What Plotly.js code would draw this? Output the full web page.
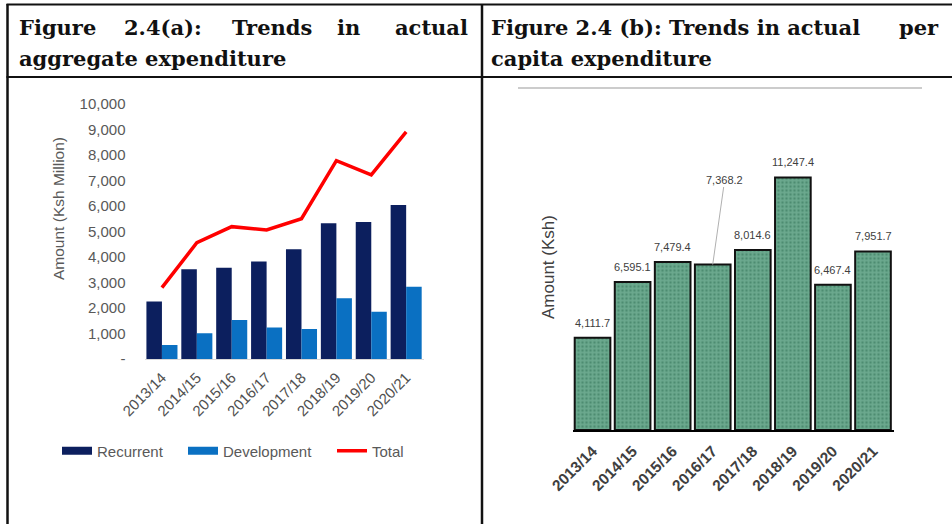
<!DOCTYPE html>
<html>
<head>
<meta charset="utf-8">
<script src="https://cdn.plot.ly/plotly-3.0.1.min.js"></script>
<style>
  html, body { margin: 0; padding: 0; background: #fff; }
  #chart { width: 952px; height: 524px; }
</style>
</head>
<body>
<div id="chart"></div>
<script>
// ---- Data ----
const categories = ['2013/14','2014/15','2015/16','2016/17','2017/18','2018/19','2019/20','2020/21'];
const recurrent = [2250, 3520, 3580, 3820, 4300, 5320, 5370, 6040];
const development = [550, 1010, 1530, 1240, 1175, 2380, 1855, 2835];
const total = [2800, 4560, 5190, 5060, 5500, 7780, 7220, 8910];
const perCapita = [4111.7, 6595.1, 7479.4, 7368.2, 8014.6, 11247.4, 6467.4, 7951.7];
const yTickVals = [0, 1000, 2000, 3000, 4000, 5000, 6000, 7000, 8000, 9000, 10000];
const yTickText = ['-', '1,000', '2,000', '3,000', '4,000', '5,000', '6,000', '7,000', '8,000', '9,000', '10,000'];
const seriesNames = ['Recurrent', 'Development', 'Total'];
const headerA1 = ['Figure', '2.4(a):', 'Trends', 'in', 'actual'];
const headerA2 = 'aggregate expenditure';
const headerB1 = ['Figure 2.4 (b): Trends in actual', 'per'];
const headerB2 = 'capita expenditure';
const titleA = 'Amount (Ksh Million)';
const titleB = 'Amount (Ksh)';

// ---- helpers ----
const W = 952, H = 524;
const px = v => v / W;
const py = v => 1 - v / H;
function fmt1(n) {
  const s = n.toFixed(1);
  const [i, d] = s.split('.');
  return i.replace(/\B(?=(\d{3})+(?!\d))/g, ',') + '.' + d;
}

const navy = '#0c1f5e';
const blue = '#0a70c2';
const red = '#ff0000';
const sans = 'Liberation Sans, Arial, sans-serif';
const serif = 'DejaVu Serif, serif';
const legendFont = { family: sans, size: 15, color: '#595959' };

const traces = [
  { type: 'bar', name: seriesNames[0], x: categories, y: recurrent, marker: { color: navy },
    xaxis: 'x', yaxis: 'y', showlegend: false },
  { type: 'bar', name: seriesNames[1], x: categories, y: development, marker: { color: blue },
    xaxis: 'x', yaxis: 'y', showlegend: false },
  { type: 'scatter', mode: 'lines', name: seriesNames[0], x: [null], y: [null],
    line: { color: navy, width: 8 }, xaxis: 'x', yaxis: 'y', legend: 'legend', hoverinfo: 'skip' },
  { type: 'scatter', mode: 'lines', name: seriesNames[1], x: [null], y: [null],
    line: { color: blue, width: 8 }, xaxis: 'x', yaxis: 'y', legend: 'legend2', hoverinfo: 'skip' },
  { type: 'scatter', mode: 'lines', name: seriesNames[2], x: categories, y: total,
    line: { color: red, width: 3.5 }, xaxis: 'x', yaxis: 'y', legend: 'legend3' },
  { type: 'bar', name: 'Per capita', x: categories, y: perCapita, xaxis: 'x2', yaxis: 'y2', showlegend: false,
    marker: { color: '#68a78b', line: { color: '#111', width: 2 },
      pattern: { shape: '.', bgcolor: '#6ba98e', fgcolor: '#4d8c71', size: 4, solidity: 0.3 } } }
];

const annotations = [];
// headers
const headFont = { family: serif, size: 21, color: '#111', weight: 'bold' };
const a1Centers = [null, 162.5, 271.5, 348.5, null];
headerA1.forEach((w, i) => {
  let x, xa;
  if (i === 0) { x = 17; xa = 'left'; }
  else if (i === headerA1.length - 1) { x = 470; xa = 'right'; }
  else { x = a1Centers[i]; xa = 'center'; }
  annotations.push({ text: w, xref: 'paper', yref: 'paper', x: px(x), y: py(28), xanchor: xa, yanchor: 'middle', showarrow: false, font: headFont });
});
annotations.push({ text: headerA2, xref: 'paper', yref: 'paper', x: px(17), y: py(58), xanchor: 'left', yanchor: 'middle', showarrow: false, font: headFont });
annotations.push({ text: headerB1[0], xref: 'paper', yref: 'paper', x: px(489), y: py(28), xanchor: 'left', yanchor: 'middle', showarrow: false, font: headFont });
annotations.push({ text: headerB1[1], xref: 'paper', yref: 'paper', x: px(941), y: py(28), xanchor: 'right', yanchor: 'middle', showarrow: false, font: headFont });
annotations.push({ text: headerB2, xref: 'paper', yref: 'paper', x: px(489), y: py(58), xanchor: 'left', yanchor: 'middle', showarrow: false, font: headFont });

// axis titles
annotations.push({ text: titleA, xref: 'paper', yref: 'paper', x: px(58), y: py(209), textangle: -90, showarrow: false,
  xanchor: 'center', yanchor: 'middle', font: { family: sans, size: 15.5, color: '#595959' } });
annotations.push({ text: titleB, xref: 'paper', yref: 'paper', x: px(548), y: py(267), textangle: -90, showarrow: false,
  xanchor: 'center', yanchor: 'middle', font: { family: sans, size: 17, color: '#404040' } });

// data labels for per-capita bars
perCapita.forEach((v, i) => {
  const base = { text: fmt1(v), xref: 'x2', yref: 'y2', x: categories[i], y: v,
    font: { family: sans, size: 11, color: '#404040' } };
  if (i === 3) {
    annotations.push(Object.assign(base, { showarrow: true, arrowhead: 0, arrowwidth: 1, arrowcolor: '#b0b0b0',
      ax: 12, ay: -85, standoff: 0 }));
  } else {
    annotations.push(Object.assign(base, { showarrow: false, yanchor: 'middle', yshift: 15 }));
  }
});

const shapes = [
  { type: 'line', xref: 'paper', yref: 'paper', x0: px(6.5), x1: px(952), y0: py(4.5), y1: py(4.5), line: { color: '#111', width: 2 } },
  { type: 'line', xref: 'paper', yref: 'paper', x0: px(6.5), x1: px(952), y0: py(77), y1: py(77), line: { color: '#111', width: 2 } },
  { type: 'line', xref: 'paper', yref: 'paper', x0: px(7.5), x1: px(7.5), y0: py(4), y1: py(524), line: { color: '#111', width: 2.5 } },
  { type: 'line', xref: 'paper', yref: 'paper', x0: px(482), x1: px(482), y0: py(4), y1: py(524), line: { color: '#111', width: 2.5 } },
  { type: 'line', xref: 'paper', yref: 'paper', x0: px(518), x1: px(922), y0: py(88), y1: py(88), line: { color: '#9a9a9a', width: 1.2 } }
];

const legBase = { orientation: 'h', yanchor: 'middle', xanchor: 'left', y: py(451), font: legendFont, bgcolor: 'rgba(0,0,0,0)' };

const layout = {
  width: W, height: H,
  margin: { l: 0, r: 0, t: 0, b: 0 },
  paper_bgcolor: '#ffffff', plot_bgcolor: 'rgba(0,0,0,0)',
  barmode: 'group',
  bargap: 0.11, bargroupgap: 0,
  showlegend: true,
  legend: Object.assign({}, legBase, { x: px(57) }),
  legend2: Object.assign({}, legBase, { x: px(183) }),
  legend3: Object.assign({}, legBase, { x: px(332) }),
  xaxis: { domain: [px(144.5), px(423.6)], anchor: 'y', type: 'category', tickangle: -45,
    showline: true, linecolor: '#d9d9d9', linewidth: 1, ticks: '', showgrid: false, ticklabelstandoff: 3,
    tickfont: { family: sans, size: 15, color: '#505050' }, fixedrange: true },
  yaxis: { domain: [py(359), py(104)], anchor: 'x', range: [0, 10000], tickvals: yTickVals, ticktext: yTickText,
    showgrid: false, zeroline: false, showline: false, ticks: '', ticklabelstandoff: 18,
    tickfont: { family: sans, size: 15, color: '#595959' }, fixedrange: true },
  xaxis2: { domain: [px(572.5), px(893.5)], anchor: 'y2', type: 'category', tickangle: -45,
    showline: true, linecolor: '#000', linewidth: 2, ticks: '', showgrid: false, ticklabelstandoff: 4,
    tickfont: { family: sans, size: 15.5, color: '#404040', weight: 'bold' }, fixedrange: true },
  yaxis2: { domain: [py(430), py(160.5)], anchor: 'x2', range: [0, 12000], showticklabels: false,
    showgrid: false, zeroline: false, showline: false, ticks: '', fixedrange: true },
  annotations: annotations,
  shapes: shapes
};

Plotly.newPlot('chart', traces, layout, { staticPlot: true, displayModeBar: false });
</script>
</body>
</html>
